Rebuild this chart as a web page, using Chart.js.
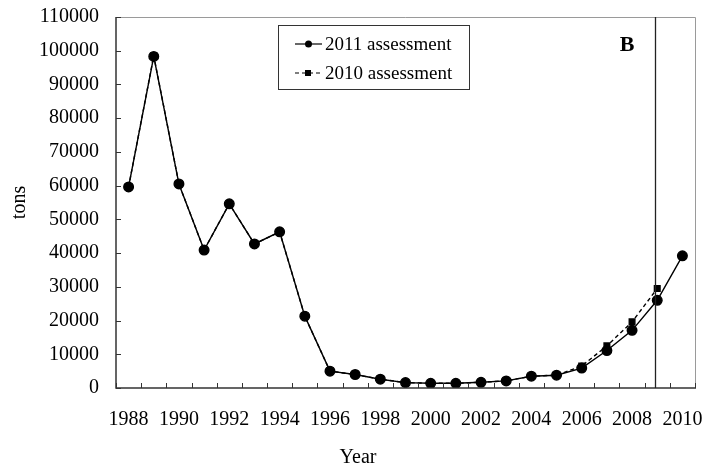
<!DOCTYPE html>
<html>
<head>
<meta charset="utf-8">
<script src="https://cdn.jsdelivr.net/npm/chart.js@4"></script>
<style>
  html, body { margin: 0; padding: 0; background: #fff; }
  #wrap { width: 706px; height: 470px; }
</style>
</head>
<body>
<div id="wrap"><canvas id="catchChart" width="706" height="470"></canvas></div>
<script>
// Datos
const years = ['1988','1989','1990','1991','1992','1993','1994','1995','1996','1997','1998',
               '1999','2000','2001','2002','2003','2004','2005','2006','2007','2008','2009','2010'];
const assess2011 = [59600, 98300, 60500, 40900, 54600, 42700, 46300, 21300, 5000, 4000, 2600,
                    1600, 1400, 1400, 1700, 2100, 3500, 3800, 5900, 11100, 17100, 26000, 39200];
const assess2010 = [59600, 98500, 60500, 40900, 54600, 42700, 46300, 21300, 5000, 4000, 2600,
                    1600, 1400, 1400, 1700, 2100, 3500, 3800, 6500, 12500, 19600, 29500, null];
const yTicks = [0, 10000, 20000, 30000, 40000, 50000, 60000, 70000, 80000, 90000, 100000, 110000];
const markerYear = '2009';
const panelLabel = 'B';

const serif = '"Liberation Serif", "Times New Roman", serif';

// Dibuja marco, ticks hacia dentro, línea vertical, leyenda y textos
const decorPlugin = {
    id: 'decor',
    afterDatasetsDraw(chart) {
        const ctx = chart.ctx;
        const a = chart.chartArea;
        const xs = chart.scales.x;
        const ys = chart.scales.y;
        ctx.save();

        // marco superior y derecho (gris)
        ctx.strokeStyle = '#9a9a9a';
        ctx.lineWidth = 1;
        ctx.beginPath();
        ctx.moveTo(a.left, a.top + 0.5);
        ctx.lineTo(a.right + 0.5, a.top + 0.5);
        ctx.lineTo(a.right + 0.5, a.bottom);
        ctx.stroke();

        // ejes
        ctx.strokeStyle = '#333';
        ctx.lineWidth = 1.5;
        ctx.beginPath();
        ctx.moveTo(a.left, a.top);
        ctx.lineTo(a.left, a.bottom);
        ctx.lineTo(a.right + 1, a.bottom);
        ctx.stroke();

        // ticks hacia dentro
        ctx.lineWidth = 1;
        ctx.beginPath();
        yTicks.forEach(v => {
            const y = Math.round(ys.getPixelForValue(v)) + 0.5;
            ctx.moveTo(a.left, y);
            ctx.lineTo(a.left + 5, y);
        });
        const step = xs.getPixelForValue(1) - xs.getPixelForValue(0);
        for (let i = 0; i <= years.length; i++) {
            const x = Math.round(xs.getPixelForValue(0) - step / 2 + i * step) + 0.5;
            ctx.moveTo(x, a.bottom);
            ctx.lineTo(x, a.bottom - 5);
        }
        ctx.stroke();

        // línea vertical en 2009
        const xm = Math.round(xs.getPixelForValue(years.indexOf(markerYear))) - 1.5;
        ctx.strokeStyle = '#222';
        ctx.lineWidth = 1.3;
        ctx.beginPath();
        ctx.moveTo(xm, a.top);
        ctx.lineTo(xm, a.bottom);
        ctx.stroke();

        // leyenda
        const lx = 278, ly = 25, lw = 191, lh = 64;
        ctx.fillStyle = '#fff';
        ctx.fillRect(lx, ly, lw, lh);
        ctx.strokeStyle = '#333';
        ctx.lineWidth = 1;
        ctx.strokeRect(lx + 0.5, ly + 0.5, lw, lh);
        chart.data.datasets.forEach((ds, i) => {
            const cy = ly + 19 + i * 29;
            ctx.strokeStyle = '#000';
            ctx.lineWidth = 1.2;
            ctx.setLineDash(ds.borderDash || []);
            ctx.beginPath();
            ctx.moveTo(295, cy);
            ctx.lineTo(322, cy);
            ctx.stroke();
            ctx.setLineDash([]);
            ctx.fillStyle = '#000';
            if (ds.pointStyle === 'rect') {
                ctx.fillRect(305, cy - 3, 6, 6);
            } else {
                ctx.beginPath();
                ctx.arc(308.5, cy, 3.5, 0, Math.PI * 2);
                ctx.fill();
            }
            ctx.font = '19px ' + serif;
            ctx.textAlign = 'left';
            ctx.textBaseline = 'middle';
            ctx.fillText(ds.label, 325, cy + 1);
        });

        // etiqueta del panel
        ctx.font = 'bold 22px ' + serif;
        ctx.fillStyle = '#000';
        ctx.textAlign = 'center';
        ctx.textBaseline = 'middle';
        ctx.fillText(panelLabel, 627, 45);

        // título eje x
        ctx.font = '20px ' + serif;
        ctx.fillText('Year', 358, 458);
        ctx.restore();
    }
};

const ctx = document.getElementById('catchChart').getContext('2d');
const catchChart = new Chart(ctx, {
    type: 'line',
    data: {
        labels: years,
        datasets: [{
            label: '2011 assessment',
            data: assess2011,
            borderColor: '#000',
            backgroundColor: '#000',
            borderWidth: 1.4,
            pointStyle: 'circle',
            pointRadius: 4.8,
            tension: 0
        }, {
            label: '2010 assessment',
            data: assess2010,
            borderColor: '#000',
            backgroundColor: '#000',
            borderWidth: 1.4,
            borderDash: [4, 3],
            pointStyle: 'rect',
            pointRadius: 4,
            tension: 0
        }]
    },
    options: {
        responsive: false,
        animation: false,
        layout: { padding: { left: 0, top: 17, right: 11, bottom: 0 } },
        plugins: {
            legend: { display: false },
            tooltip: { enabled: false }
        },
        scales: {
            x: {
                type: 'category',
                offset: true,
                grid: { display: false, drawTicks: false },
                border: { display: false },
                ticks: {
                    autoSkip: false,
                    maxRotation: 0,
                    padding: 20,
                    color: '#000',
                    font: { family: serif, size: 20 },
                    callback: function(value, index) {
                        return index % 2 === 0 ? years[index] : '';
                    }
                },
                afterFit: function(scale) {
                    scale.height = 82;
                    scale.paddingLeft = 0;
                    scale.paddingRight = 0;
                }
            },
            y: {
                min: 0,
                max: 110000,
                afterBuildTicks: function(scale) {
                    scale.ticks = yTicks.map(v => ({ value: v }));
                },
                grid: { display: false, drawTicks: false },
                border: { display: false },
                ticks: {
                    padding: 17,
                    color: '#000',
                    font: { family: serif, size: 20 },
                    callback: function(value) { return String(value); }
                },
                title: {
                    display: true,
                    text: 'tons',
                    color: '#000',
                    font: { family: serif, size: 20 },
                    padding: { top: 8, bottom: 0 }
                },
                afterFit: function(scale) {
                    scale.width = 116;
                    scale.paddingTop = 0;
                    scale.paddingBottom = 0;
                }
            }
        }
    },
    plugins: [decorPlugin]
});
</script>
</body>
</html>
